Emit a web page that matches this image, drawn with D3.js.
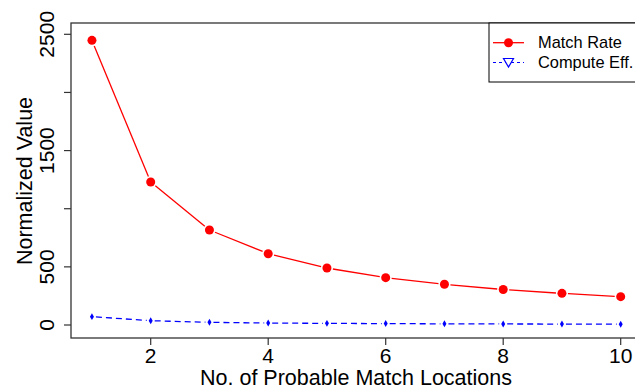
<!DOCTYPE html>
<html><head><meta charset="utf-8">
<script src="https://cdn.jsdelivr.net/npm/d3@7"></script>
<style>body{margin:0;background:#fff}svg{display:block}text{font-family:"Liberation Sans",Arial,sans-serif;fill:#000}</style>
</head><body><svg id="c" width="635" height="390"></svg>
<script>
const xs = [1,2,3,4,5,6,7,8,9,10];
const matchRate = [2448,1230,817,613,490,407,350,305,272,244];
const computeEff = [72,37,23,17,14,12,10,9,8,7];
const xTicks = [2,4,6,8,10];
const yTicks = [0,500,1000,1500,2000,2500];
const yLabels = [0,500,1500,2500];
const seriesNames = ["Match Rate","Compute Eff."];

const svg = d3.select("#c");
const x = d3.scaleLinear().domain([2,10]).range([150.7,620.7]);
const y = d3.scaleLinear().domain([0,2500]).range([325,34.3]);
const L=71, T=23, B=338, R=660;

// box
svg.append("rect").attr("x",L).attr("y",T).attr("width",R-L).attr("height",B-T)
  .attr("fill","none").attr("stroke","#333").attr("stroke-width",1.3);

// y axis ticks
const ya = svg.append("g");
yTicks.forEach(v=>{
  ya.append("line").attr("x1",L-7).attr("x2",L).attr("y1",y(v)).attr("y2",y(v)).attr("stroke","#333").attr("stroke-width",1.2);
});
yLabels.forEach(v=>{
  ya.append("text").attr("transform",`translate(54,${y(v)}) rotate(-90)`).attr("text-anchor","middle")
    .attr("font-size",21).text(v);
});
// x axis ticks
xTicks.forEach(v=>{
  svg.append("line").attr("x1",x(v)).attr("x2",x(v)).attr("y1",B).attr("y2",B+7).attr("stroke","#333").attr("stroke-width",1.2);
  svg.append("text").attr("x",x(v)).attr("y",362.5).attr("text-anchor","middle").attr("font-size",21).text(v);
});
svg.append("text").attr("x",356).attr("y",385).attr("text-anchor","middle").attr("font-size",21.5).text("No. of Probable Match Locations");
svg.append("text").attr("transform","translate(32,181) rotate(-90)").attr("text-anchor","middle").attr("font-size",21.5).text("Normalized Value");

function gappedLines(vals,color,dash,gap){
  const g = svg.append("g");
  for(let i=0;i<vals.length-1;i++){
    const x1=x(xs[i]),y1=y(vals[i]),x2=x(xs[i+1]),y2=y(vals[i+1]);
    const dx=x2-x1,dy=y2-y1,len=Math.hypot(dx,dy);
    if(len<=2*gap) continue;
    const ux=dx/len,uy=dy/len;
    g.append("line").attr("x1",x1+ux*gap).attr("y1",y1+uy*gap).attr("x2",x2-ux*gap).attr("y2",y2-uy*gap)
      .attr("stroke",color).attr("stroke-width",1.3).attr("stroke-dasharray",dash);
  }
  return g;
}
gappedLines(matchRate,"#ff0000",null,6);
svg.append("g").selectAll("circle").data(matchRate).join("circle")
  .attr("cx",(d,i)=>x(xs[i])).attr("cy",d=>y(d)).attr("r",4.5).attr("fill","#ff0000");
gappedLines(computeEff,"#0000ff","6,4",4);
svg.append("g").selectAll("path").data(computeEff).join("path")
  .attr("transform",(d,i)=>`translate(${x(xs[i])},${y(d)})`)
  .attr("d",d3.symbol(d3.symbolDiamond,14)).attr("fill","#0000ff");

// legend
const lg = svg.append("g");
lg.append("rect").attr("x",489).attr("y",23).attr("width",200).attr("height",59).attr("fill","#fff").attr("stroke","#000").attr("stroke-width",1);
lg.append("line").attr("x1",493).attr("x2",524).attr("y1",42.7).attr("y2",42.7).attr("stroke","#ff0000").attr("stroke-width",1.3);
lg.append("circle").attr("cx",508.5).attr("cy",42.7).attr("r",4.5).attr("fill","#ff0000");
lg.append("line").attr("x1",493).attr("x2",524).attr("y1",62.5).attr("y2",62.5).attr("stroke","#0000ff").attr("stroke-width",1.2).attr("stroke-dasharray","3,3");
lg.append("path").attr("d","M503.5,58.5 L513.5,58.5 L508.5,67 Z").attr("fill","#fff").attr("stroke","#0000ff").attr("stroke-width",1.2);
lg.append("text").attr("x",538).attr("y",48.3).attr("font-size",16.4).text(seriesNames[0]);
lg.append("text").attr("x",538).attr("y",68.3).attr("font-size",16.4).text(seriesNames[1]);
</script></body></html>
